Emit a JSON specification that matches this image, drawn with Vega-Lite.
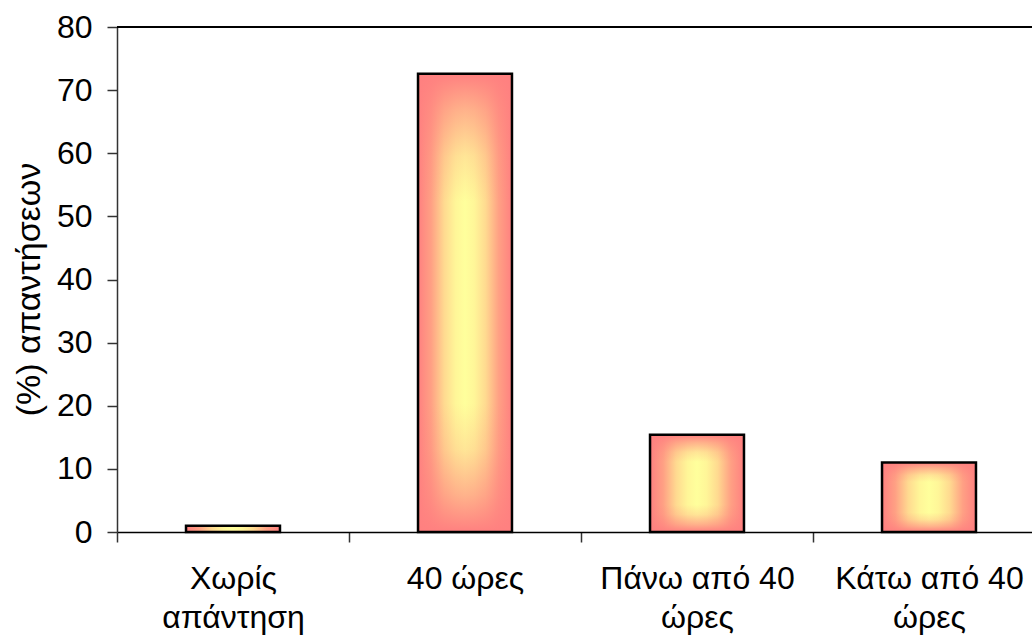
{
  "$schema": "https://vega.github.io/schema/vega-lite/v6.json",
  "width": 915,
  "height": 505,
  "autosize": {"type": "none"},
  "padding": {"left": 117, "top": 27, "right": 0, "bottom": 104},
  "background": "white",
  "config": {"view": {"stroke": null}, "font": "Liberation Sans"},
  "data": {
    "values": [
      {"category": "Χωρίς απάντηση", "pct": 1.0},
      {"category": "40 ώρες", "pct": 72.6},
      {"category": "Πάνω από 40 ώρες", "pct": 15.4},
      {"category": "Κάτω από 40 ώρες", "pct": 11.0}
    ]
  },
  "layer": [
    {
      "encoding": {
        "x": {
          "field": "category",
          "type": "nominal",
          "sort": null,
          "scale": {"range": [0, 928], "paddingInner": 0.595, "paddingOuter": 0.2975},
          "axis": {
            "title": null,
            "labelAngle": 0,
            "labelFont": "Liberation Sans",
            "labelFontSize": 32,
            "labelColor": "black",
            "labelPadding": 21,
            "labelLineHeight": 39,
            "labelLimit": 400,
            "labelExpr": "length(datum.label) > 8 ? [substring(datum.label, 0, lastindexof(datum.label, ' ')), substring(datum.label, lastindexof(datum.label, ' ') + 1)] : datum.label",
            "bandPosition": 0,
            "tickOffset": -69,
            "labelOffset": 69,
            "tickSize": 10,
            "tickColor": "#333333",
            "tickWidth": 1.5,
            "domainColor": "#000000",
            "domainWidth": 1.5
          }
        },
        "y": {
          "field": "pct",
          "type": "quantitative",
          "scale": {"domain": [0, 80], "nice": false},
          "axis": {
            "title": "(%) απαντήσεων",
            "titleFont": "Liberation Sans",
            "titleFontSize": 34,
            "titleFontWeight": "normal",
            "titleColor": "black",
            "titlePadding": 10,
            "titleY": 262,
            "values": [0, 10, 20, 30, 40, 50, 60, 70, 80],
            "grid": false,
            "labelFont": "Liberation Sans",
            "labelFontSize": 32,
            "labelColor": "black",
            "labelPadding": 15,
            "tickSize": 10,
            "tickColor": "#333333",
            "tickWidth": 1.5,
            "domainColor": "#333333",
            "domainWidth": 1.5
          }
        }
      },
      "layer": [
        {
          "mark": {
            "type": "bar",
            "stroke": null,
            "fill": {
              "gradient": "linear",
              "x1": 0, "y1": 0, "x2": 1, "y2": 0,
              "stops": [
                {"offset": 0, "color": "#ff8080"},
                {"offset": 0.14, "color": "#ffa084"},
                {"offset": 0.28, "color": "#ffda90"},
                {"offset": 0.4, "color": "#fff698"},
                {"offset": 0.5, "color": "#ffff9c"},
                {"offset": 0.6, "color": "#fff698"},
                {"offset": 0.72, "color": "#ffda90"},
                {"offset": 0.86, "color": "#ffa084"},
                {"offset": 1, "color": "#ff8080"}
              ]
            }
          }
        },
        {
          "mark": {
            "type": "bar",
            "stroke": "black",
            "strokeWidth": 2.5,
            "fill": {
              "gradient": "linear",
              "x1": 0, "y1": 0, "x2": 0, "y2": 1,
              "stops": [
                {"offset": 0, "color": "rgba(255,128,128,1)"},
                {"offset": 0.08, "color": "rgba(255,128,128,0.6)"},
                {"offset": 0.18, "color": "rgba(255,128,128,0.2)"},
                {"offset": 0.28, "color": "rgba(255,128,128,0)"},
                {"offset": 0.72, "color": "rgba(255,128,128,0)"},
                {"offset": 0.82, "color": "rgba(255,128,128,0.2)"},
                {"offset": 0.92, "color": "rgba(255,128,128,0.6)"},
                {"offset": 1, "color": "rgba(255,128,128,1)"}
              ]
            }
          }
        }
      ]
    },
    {
      "mark": {"type": "rule", "color": "black", "strokeWidth": 2},
      "encoding": {"y": {"datum": 80}}
    }
  ]
}
